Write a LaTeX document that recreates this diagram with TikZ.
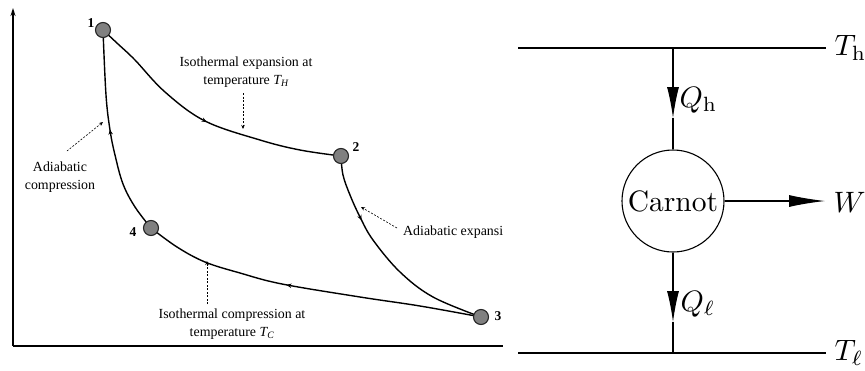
\documentclass[tikz,border=0pt]{standalone}
\usepackage{fontspec}
\newfontfamily\tnr{Liberation Serif}
\usetikzlibrary{arrows.meta,decorations.markings}
\begin{document}
\begin{tikzpicture}[x=1pt,y=-1pt,
  state/.style={circle,draw=black!85,fill=black!50,line width=1.1pt,minimum size=15pt,inner sep=0pt},
  numlbl/.style={font=\tnr\bfseries\fontsize{13.5}{15}\selectfont,inner sep=0pt},
  note/.style={font=\tnr\fontsize{13.9}{17.5}\selectfont,align=center,inner sep=0pt},
  curve/.style={line width=1.4pt},
  flowmark/.style={postaction={decorate,decoration={markings,mark=at position #1 with {\arrow{Stealth[length=5pt,width=4.5pt]}}}}},
  dasharrow/.style={line width=0.6pt,dash pattern=on 2pt off 1.5pt,-{Stealth[length=4pt,width=3.5pt]}},
  axis/.style={line width=1.8pt},
  rline/.style={line width=1.1pt},
  bigtip/.style={-{Latex[length=31pt,width=12pt]}},
  rtext/.style={font=\fontsize{10}{12}\selectfont,inner sep=0pt,scale=2.95}
]
\useasboundingbox (0,0) rectangle (865,370);

% ---------------- left panel ----------------
\begin{scope}
\clip (0,0) rectangle (505,370);
\coordinate (origin) at (13,346);
\coordinate (yend) at (13,8);
\coordinate (xend) at (503,346);
\draw[axis,-{Stealth[length=8pt,width=5pt]}] (origin) -- (yend);
\draw[axis] (origin) -- (xend);

\coordinate (c1) at (103,30);
\coordinate (c2) at (341,156);
\coordinate (c3) at (481,317);
\coordinate (c4) at (151,228);

\draw[curve,flowmark=0.5] plot[smooth,tension=0.6] coordinates {(c1) (118,44) (135,60) (165,92) (205,121) (260,140) (300,150) (c2)};
\draw[curve,flowmark=0.3] plot[smooth,tension=0.6] coordinates {(c2) (343,175) (350,195) (360,217) (373,240) (400,272) (433,297) (c3)};
\draw[curve,flowmark=0.57] plot[smooth,tension=0.6] coordinates {(c3) (420,306) (360,297) (282,284) (240,273) (205,262) (177,247) (c4)};
\draw[curve,flowmark=0.52] plot[smooth,tension=0.6] coordinates {(c4) (135,207) (123,184) (115,155) (110,130) (106,95) (c1)};

\node[state] (p1) at (c1) {};
\node[state] (p2) at (c2) {};
\node[state] (p3) at (c3) {};
\node[state] (p4) at (c4) {};

\node[numlbl] (l1) at (91,23) {1};
\node[numlbl] (l2) at (356,147) {2};
\node[numlbl] (l3) at (498,316) {3};
\node[numlbl] (l4) at (133,232) {4};

\node[note] (n12) at (246,72) {Isothermal expansion at\\temperature {\itshape T\textsubscript{H}}};
\node[note] (n41) at (60,177) {Adiabatic\\compression};
\node[note,anchor=west] (n23) at (403,232) {Adiabatic expansi};
\node[note] (n34) at (232,324) {Isothermal compression at\\temperature {\itshape T\textsubscript{C}}};

\coordinate (a12s) at (243,93);  \coordinate (a12e) at (243,129);
\coordinate (a41s) at (67,151);  \coordinate (a41e) at (103,122);
\coordinate (a23s) at (397,228); \coordinate (a23e) at (361,207);
\coordinate (a34s) at (207,304); \coordinate (a34e) at (207,261);
\draw[dasharrow] (a12s) -- (a12e);
\draw[dasharrow] (a41s) -- (a41e);
\draw[dasharrow] (a23s) -- (a23e);
\draw[dasharrow] (a34s) -- (a34e);
\end{scope}

% ---------------- right panel ----------------
\coordinate (th0) at (518,48);
\coordinate (th1) at (826,48);
\coordinate (tl0) at (518,353);
\coordinate (tl1) at (826,353);
\draw[rline] (th0) -- (th1);
\draw[rline] (tl0) -- (tl1);
\node[rtext,anchor=west] (Th) at ([xshift=8pt]th1) {$T_{\mathrm{h}}$};
\node[rtext,anchor=west] (Tl) at ([xshift=8pt]tl1) {$T_{\ell}$};

\node[circle,draw,rline,minimum size=102pt,inner sep=0pt] (car) at (673,201) {};
\node[rtext] (cartxt) at (car.center) {Carnot};

\coordinate (qhtop) at (car.north |- th0);
\coordinate (qhtip) at (673,118);
\draw[rline,bigtip] (qhtop) -- (qhtip);
\draw[rline] (qhtip) -- (car.north);
\node[rtext,anchor=west] (Qh) at (679,100) {$Q_{\mathrm{h}}$};

\coordinate (qlbot) at (car.south |- tl0);
\coordinate (qltip) at (673,322);
\draw[rline,bigtip] (car.south) -- (qltip);
\draw[rline] (qltip) -- (qlbot);
\node[rtext,anchor=west] (Ql) at (680,304) {$Q_{\ell}$};

\coordinate (wtip) at (825,201);
\draw[rline,-{Latex[length=36pt,width=12pt]}] (car.east) -- (wtip);
\node[rtext,anchor=west] (W) at (833,202) {$W$};
\end{tikzpicture}
\end{document}
